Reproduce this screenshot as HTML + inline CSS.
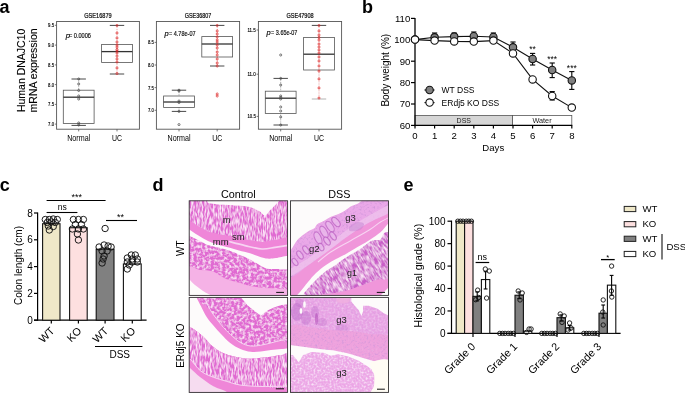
<!DOCTYPE html>
<html><head><meta charset="utf-8"><style>
html,body{margin:0;padding:0;background:#fff;width:685px;height:393px;overflow:hidden}
svg{display:block;will-change:transform}
text{font-family:"Liberation Sans",sans-serif}
</style></head><body>
<svg width="685" height="393" viewBox="0 0 685 393">
<rect width="685" height="393" fill="#fff"/>
<defs>
<filter id="tv" x="0" y="0" width="1" height="1" filterUnits="objectBoundingBox">
  <feTurbulence type="fractalNoise" baseFrequency="0.6 0.16" numOctaves="2" seed="3" result="n"/>
  <feColorMatrix in="n" type="matrix" values="0 0 0 0 0.99  0 0 0 0 0.8  0 0 0 0 0.95  0 0 0 -2.5 1.58" result="spots"/>
  <feComposite in="spots" in2="SourceGraphic" operator="in" result="s2"/>
  <feMerge><feMergeNode in="SourceGraphic"/><feMergeNode in="s2"/></feMerge>
</filter>
<filter id="ts" x="0" y="0" width="1" height="1" filterUnits="objectBoundingBox">
  <feTurbulence type="fractalNoise" baseFrequency="0.35 0.35" numOctaves="2" seed="7" result="n"/>
  <feColorMatrix in="n" type="matrix" values="0 0 0 0 0.99  0 0 0 0 0.82  0 0 0 0 0.95  0 0 0 -2.3 1.35" result="spots"/>
  <feComposite in="spots" in2="SourceGraphic" operator="in" result="s2"/>
  <feMerge><feMergeNode in="SourceGraphic"/><feMergeNode in="s2"/></feMerge>
</filter>
<filter id="ti" x="0" y="0" width="1" height="1" filterUnits="objectBoundingBox">
  <feTurbulence type="fractalNoise" baseFrequency="0.5 0.5" numOctaves="2" seed="11" result="n"/>
  <feColorMatrix in="n" type="matrix" values="0 0 0 0 0.97  0 0 0 0 0.85  0 0 0 0 0.97  0 0 0 -2.0 1.15" result="spots"/>
  <feComposite in="spots" in2="SourceGraphic" operator="in" result="s2"/>
  <feMerge><feMergeNode in="SourceGraphic"/><feMergeNode in="s2"/></feMerge>
</filter>
<filter id="td" x="0" y="0" width="1" height="1" filterUnits="objectBoundingBox">
  <feTurbulence type="fractalNoise" baseFrequency="0.45 0.45" numOctaves="2" seed="5" result="n"/>
  <feColorMatrix in="n" type="matrix" values="0 0 0 0 0.62  0 0 0 0 0.3  0 0 0 0 0.7  0 0 0 -2.4 1.2" result="spots"/>
  <feComposite in="spots" in2="SourceGraphic" operator="in" result="s2"/>
  <feMerge><feMergeNode in="SourceGraphic"/><feMergeNode in="s2"/></feMerge>
</filter>
<clipPath id="cTL"><rect x="189.2" y="200.8" width="98.4" height="94.6"/></clipPath>
<clipPath id="cTR"><rect x="290.5" y="200.8" width="98" height="94.6"/></clipPath>
<clipPath id="cBL"><rect x="189.2" y="297.4" width="98.4" height="95"/></clipPath>
<clipPath id="cBR"><rect x="290.5" y="297.4" width="98" height="95"/></clipPath>
</defs>
<g clip-path="url(#cTL)">
<rect x="189" y="200" width="100" height="96" fill="#ef86d8"/>
<path d="M189.0,200.0 L288.0,200.0 L288.0,237.0 L275.0,240.0 L262.0,242.0 L249.0,240.0 L232.0,236.0 L220.0,234.5 L208.0,231.5 L198.0,226.0 L189.0,220.0 Z" fill="#e06ad2" filter="url(#tv)"/>
<path d="M189.0,233.0 L198.0,238.0 L208.0,243.0 L219.0,246.0 L229.0,249.0 L239.0,252.0 L250.0,256.0 L262.0,262.0 L269.0,264.0 L276.0,264.0 L288.0,262.0 L288.0,290.0 L265.0,288.0 L250.0,286.0 L240.0,283.0 L226.0,279.0 L213.0,271.4 L200.0,270.0 L189.0,268.0 Z" fill="#e06ad2" filter="url(#ts)"/>
<path d="M229.0,241.5 C231.7,242.2 239.5,244.3 245.0,245.6 C250.5,246.8 257.0,248.7 262.0,249.0 C267.0,249.3 270.7,248.0 275.0,247.4 C279.3,246.8 285.8,245.7 288.0,245.4" fill="none" stroke="#f7d4f2" stroke-width="1.6"/>
<path d="M187.0,228.4 C187.3,227.4 187.2,228.0 189.0,229.2 C190.8,230.3 194.8,233.3 198.0,235.3 C201.2,237.3 204.5,239.4 208.0,241.0 C211.5,242.6 215.5,243.9 219.0,245.0 C222.5,246.1 225.7,246.6 229.0,247.5 C232.3,248.4 235.5,249.5 239.0,250.5 C242.5,251.5 246.2,252.1 250.0,253.3 C253.8,254.5 258.8,256.6 262.0,257.5 C265.2,258.4 266.7,258.6 269.0,258.7 C271.3,258.8 272.5,258.5 276.0,258.1 C279.5,257.8 287.7,254.9 290.0,256.6 C292.3,258.3 292.3,266.2 290.0,268.3 C287.7,270.4 279.5,268.8 276.0,268.9 C272.5,269.0 271.3,269.3 269.0,268.9 C266.7,268.5 265.2,268.1 262.0,266.5 C258.8,264.9 253.8,261.5 250.0,259.5 C246.2,257.5 242.5,256.0 239.0,254.5 C235.5,253.0 232.3,251.6 229.0,250.5 C225.7,249.4 222.5,248.7 219.0,247.8 C215.5,246.9 211.5,246.3 208.0,245.0 C204.5,243.7 201.2,241.5 198.0,240.0 C194.8,238.5 190.8,236.6 189.0,235.8 C187.2,235.0 187.3,236.2 187.0,235.0 C186.7,233.8 186.7,229.4 187.0,228.4 Z" fill="#fdfbfb"/>
<path d="M205.0,199.0 C192.7,199.2 206.4,199.8 207.0,200.5 C207.6,201.2 206.6,202.3 208.5,203.0 C210.4,203.7 214.1,204.0 218.2,204.4 C222.2,204.8 227.9,204.8 232.8,205.2 C237.7,205.6 243.0,205.6 247.4,206.6 C251.8,207.6 256.1,209.5 259.0,211.0 C261.9,212.5 263.0,215.6 265.0,215.4 C267.0,215.2 268.9,211.5 270.8,209.6 C272.7,207.7 275.2,205.3 276.6,203.8 C278.1,202.3 278.8,201.3 279.5,200.5 C280.2,199.7 293.4,199.2 281.0,199.0 C268.6,198.8 217.3,198.8 205.0,199.0 Z" fill="#fdfbfb"/>
<path d="M187.0,268.0 C189.2,263.5 195.7,269.4 200.0,270.0 C204.3,270.6 208.7,269.9 213.0,271.4 C217.3,272.9 221.5,277.1 226.0,279.0 C230.5,280.9 236.0,281.8 240.0,283.0 C244.0,284.2 245.8,285.2 250.0,286.0 C254.2,286.8 258.3,287.3 265.0,288.0 C271.7,288.7 285.8,288.5 290.0,290.0 C294.2,291.5 307.2,295.8 290.0,297.0 C272.8,298.2 204.2,301.8 187.0,297.0 C169.8,292.2 184.8,272.5 187.0,268.0 Z" fill="#f5b2e6"/>
<path d="M187.0,279.0 C188.3,277.0 192.3,283.0 195.0,285.0 C197.7,287.0 200.3,289.0 203.0,291.0 C205.7,293.0 213.7,296.0 211.0,297.0 C208.3,298.0 191.0,300.0 187.0,297.0 C183.0,294.0 185.7,281.0 187.0,279.0 Z" fill="#fdfbfb"/>
<line x1="276.2" y1="292.4" x2="284" y2="292.4" stroke="#111" stroke-width="1"/>
</g>
<g clip-path="url(#cTR)">
<rect x="290" y="200" width="100" height="96" fill="#f096da"/>
<path d="M289.0,250.0 C289.4,245.3 290.2,250.5 291.5,249.0 C292.8,247.5 294.9,243.2 296.6,241.0 C298.3,238.8 299.8,237.5 301.7,235.9 C303.6,234.3 305.9,232.7 308.0,231.4 C310.1,230.1 312.9,229.5 314.4,228.3 C315.9,227.1 315.3,225.7 317.0,224.4 C318.7,223.1 322.3,221.9 324.6,220.6 C326.9,219.3 328.8,217.9 331.0,216.8 C333.2,215.8 335.8,215.3 338.0,214.3 C340.2,213.3 342.3,212.3 344.4,211.0 C346.5,209.7 348.6,207.8 350.7,206.6 C352.8,205.4 355.3,204.8 357.0,204.0 C358.7,203.2 359.7,202.3 361.0,201.5 C362.3,200.7 359.8,199.4 365.0,199.0 C370.2,198.6 387.5,197.0 392.0,199.0 C396.5,201.0 395.7,207.2 392.0,211.0 C388.3,214.8 376.8,218.2 370.0,222.0 C363.2,225.8 357.6,229.5 351.0,234.0 C344.4,238.5 337.5,244.0 330.7,249.0 C323.9,254.0 316.9,259.3 310.0,264.0 C303.1,268.7 292.5,279.3 289.0,277.0 C285.5,274.7 288.6,254.7 289.0,250.0 Z" fill="#eaa8e8" filter="url(#td)"/>
<path d="M289.0,270.0 C292.5,266.7 303.1,261.7 310.0,257.0 C316.9,252.3 323.9,247.0 330.7,242.0 C337.5,237.0 344.4,231.5 351.0,227.0 C357.6,222.5 363.2,218.8 370.0,215.0 C376.8,211.2 388.3,204.7 392.0,204.0 C395.7,203.3 395.7,208.0 392.0,211.0 C388.3,214.0 376.8,218.2 370.0,222.0 C363.2,225.8 357.6,229.5 351.0,234.0 C344.4,238.5 337.5,244.0 330.7,249.0 C323.9,254.0 316.9,259.3 310.0,264.0 C303.1,268.7 292.5,276.0 289.0,277.0 C285.5,278.0 285.5,273.3 289.0,270.0 Z" fill="#efc2ec" opacity="0.8"/>
<ellipse cx="318" cy="238" rx="3.2" ry="6.5" transform="rotate(-25 318 238)" fill="#eabcec" stroke="#bb62c2" stroke-width="1.2" opacity="0.7"/>
<ellipse cx="324" cy="232" rx="3.0" ry="6.5" transform="rotate(-30 324 232)" fill="#eabcec" stroke="#bb62c2" stroke-width="1.2" opacity="0.7"/>
<ellipse cx="330" cy="226.5" rx="3.0" ry="6" transform="rotate(-35 330 226.5)" fill="#eabcec" stroke="#bb62c2" stroke-width="1.2" opacity="0.7"/>
<ellipse cx="336" cy="222" rx="2.8" ry="5.5" transform="rotate(-40 336 222)" fill="#eabcec" stroke="#bb62c2" stroke-width="1.2" opacity="0.7"/>
<ellipse cx="321" cy="247" rx="2.4" ry="4" transform="rotate(-30 321 247)" fill="#eabcec" stroke="#bb62c2" stroke-width="1.2" opacity="0.7"/>
<ellipse cx="327" cy="241" rx="2.4" ry="4.5" transform="rotate(-35 327 241)" fill="#eabcec" stroke="#bb62c2" stroke-width="1.2" opacity="0.7"/>
<ellipse cx="333" cy="236" rx="2.4" ry="4.5" transform="rotate(-35 333 236)" fill="#eabcec" stroke="#bb62c2" stroke-width="1.2" opacity="0.7"/>
<ellipse cx="300" cy="255" rx="2.4" ry="4.5" transform="rotate(-35 300 255)" fill="#eabcec" stroke="#bb62c2" stroke-width="1.2" opacity="0.7"/>
<ellipse cx="306" cy="250" rx="2.4" ry="4.5" transform="rotate(-35 306 250)" fill="#eabcec" stroke="#bb62c2" stroke-width="1.2" opacity="0.7"/>
<ellipse cx="295" cy="262" rx="2.2" ry="4" transform="rotate(-35 295 262)" fill="#eabcec" stroke="#bb62c2" stroke-width="1.2" opacity="0.7"/>
<path d="M350.0,226.0 C351.3,224.5 355.7,222.3 358.0,222.0 C360.3,221.7 363.7,222.7 364.0,224.0 C364.3,225.3 362.3,228.8 360.0,230.0 C357.7,231.2 351.7,231.7 350.0,231.0 C348.3,230.3 348.7,227.5 350.0,226.0 Z" fill="#c07ed0" opacity="0.45"/>
<path d="M289.0,250.0 C289.4,258.3 290.2,250.5 291.5,249.0 C292.8,247.5 294.9,243.2 296.6,241.0 C298.3,238.8 299.8,237.5 301.7,235.9 C303.6,234.3 305.9,232.7 308.0,231.4 C310.1,230.1 312.9,229.5 314.4,228.3 C315.9,227.1 315.3,225.7 317.0,224.4 C318.7,223.1 322.3,221.9 324.6,220.6 C326.9,219.3 328.8,217.9 331.0,216.8 C333.2,215.8 335.8,215.3 338.0,214.3 C340.2,213.3 342.3,212.3 344.4,211.0 C346.5,209.7 348.6,207.8 350.7,206.6 C352.8,205.4 355.3,204.8 357.0,204.0 C358.7,203.2 359.7,202.3 361.0,201.5 C362.3,200.7 359.8,199.4 365.0,199.0 C370.2,198.6 404.7,199.0 392.0,199.0 C379.3,199.0 306.2,190.5 289.0,199.0 C271.8,207.5 288.6,241.7 289.0,250.0 Z" fill="#fdfbfb"/>
<path d="M318.0,262.0 C320.1,260.3 325.2,255.6 330.7,252.0 C336.2,248.4 344.4,244.2 351.0,240.4 C357.6,236.7 365.1,232.6 370.0,229.5 C374.9,226.4 376.8,224.2 380.5,222.0 C384.2,219.8 390.1,217.0 392.0,216.0" fill="none" stroke="#f7d4f2" stroke-width="1.1"/>
<clipPath id="g1c"><path d="M298.0,298.0 C299.3,296.8 301.8,293.5 304.0,291.0 C306.2,288.5 308.8,285.3 311.0,283.0 C313.2,280.7 314.7,279.2 317.0,277.0 C319.3,274.8 322.3,272.0 325.0,270.0 C327.7,268.0 330.2,266.8 333.0,265.0 C335.8,263.2 339.2,260.8 342.0,259.0 C344.8,257.2 347.0,255.8 350.0,254.0 C353.0,252.2 356.8,250.2 360.2,248.0 C363.6,245.8 367.8,242.0 370.3,240.5 C372.8,239.0 373.7,239.3 375.4,239.0 C377.1,238.7 379.1,239.5 380.5,238.5 C381.9,237.5 382.6,234.2 383.6,233.0 C384.6,231.8 385.2,231.3 386.6,231.0 C388.0,230.7 391.1,223.8 392.0,231.0 C392.9,238.2 394.7,265.8 392.0,274.0 C389.3,282.2 381.3,278.0 376.0,280.0 C370.7,282.0 366.0,284.0 360.0,286.0 C354.0,288.0 350.7,290.0 340.0,292.0 C329.3,294.0 303.0,297.0 296.0,298.0 C289.0,299.0 296.7,299.2 298.0,298.0 Z"/></clipPath>
<g clip-path="url(#g1c)"><g transform="rotate(-30 345 270)"><rect x="280" y="200" width="130" height="140" fill="#c95cc8" filter="url(#tv)"/></g></g>
<path d="M294.0,299.0 C294.2,297.8 297.7,294.8 300.0,292.0 C302.3,289.2 305.3,285.2 308.0,282.0 C310.7,278.8 313.0,275.8 316.0,273.0 C319.0,270.2 322.7,267.3 326.0,265.0 C329.3,262.7 332.7,260.8 336.0,259.0 C339.3,257.2 343.7,255.2 346.0,254.0 C348.3,252.8 347.6,253.0 350.0,251.6 C352.4,250.2 356.8,247.5 360.2,245.5 C363.6,243.5 366.9,241.6 370.3,239.4 C373.7,237.2 377.6,234.8 380.5,232.3 C383.4,229.8 385.7,226.1 387.6,224.2 C389.5,222.3 391.3,219.7 392.0,221.0 C392.7,222.3 392.9,230.5 392.0,232.3 C391.1,234.1 388.0,231.8 386.6,232.0 C385.2,232.2 384.6,232.6 383.6,233.8 C382.6,235.0 381.9,238.4 380.5,239.4 C379.1,240.4 377.1,239.7 375.4,240.0 C373.7,240.3 372.8,240.0 370.3,241.5 C367.8,243.0 363.6,246.8 360.2,249.0 C356.8,251.2 352.9,253.2 350.0,255.0 C347.1,256.8 345.7,257.7 343.0,259.5 C340.3,261.3 336.8,264.1 334.0,266.0 C331.2,267.9 328.7,269.0 326.0,271.0 C323.3,273.0 320.3,275.8 318.0,278.0 C315.7,280.2 314.2,281.7 312.0,284.0 C309.8,286.3 307.2,289.5 305.0,292.0 C302.8,294.5 300.8,297.8 299.0,299.0 C297.2,300.2 293.8,300.2 294.0,299.0 Z" fill="#fdfbfb"/>
<path d="M380.0,296.0 L389.0,287.0 L390.0,296.0 Z" fill="#fdfbfb"/>
<line x1="376.8" y1="292.4" x2="385" y2="292.4" stroke="#111" stroke-width="1"/>
</g>
<g clip-path="url(#cBL)">
<rect x="189" y="297" width="100" height="96" fill="#ef86d8"/>
<path d="M203.5,296.0 C190.3,298.5 208.4,306.7 211.0,311.0 C213.6,315.3 216.7,319.0 219.0,322.0 C221.3,325.0 223.1,326.9 225.0,329.0 C226.9,331.1 227.9,332.2 230.5,334.5 C233.1,336.8 237.0,340.6 240.4,342.5 C243.8,344.4 247.3,345.6 250.7,346.0 C254.1,346.4 257.5,345.7 260.9,345.2 C264.3,344.7 267.6,343.7 271.0,342.9 C274.4,342.1 278.1,340.9 281.3,340.3 C284.5,339.7 288.6,346.7 290.0,339.3 C291.4,331.9 304.4,303.2 290.0,296.0 C275.6,288.8 216.7,293.5 203.5,296.0 Z" fill="#e06ad2" filter="url(#ts)"/>
<path d="M203.5,296.0 C204.8,298.5 208.4,306.7 211.0,311.0 C213.6,315.3 216.7,319.0 219.0,322.0 C221.3,325.0 223.1,326.9 225.0,329.0 C226.9,331.1 227.9,332.2 230.5,334.5 C233.1,336.8 237.0,340.6 240.4,342.5 C243.8,344.4 247.3,345.6 250.7,346.0 C254.1,346.4 257.5,345.7 260.9,345.2 C264.3,344.7 267.6,343.7 271.0,342.9 C274.4,342.1 278.1,340.9 281.3,340.3 C284.5,339.7 288.6,339.5 290.0,339.3" fill="none" stroke="#f7d4f2" stroke-width="1.0"/>
<path d="M240.0,296.0 C232.0,296.4 240.8,297.0 242.0,298.5 C243.2,300.0 245.3,303.0 247.2,304.9 C249.1,306.8 251.2,308.3 253.5,310.0 C255.8,311.7 259.1,314.8 261.2,315.0 C263.3,315.2 264.2,312.6 266.3,311.3 C268.4,310.1 271.4,308.6 273.9,307.5 C276.4,306.4 278.8,305.6 281.5,304.9 C284.2,304.2 288.6,304.9 290.0,303.4 C291.4,301.9 298.3,297.2 290.0,296.0 C281.7,294.8 248.0,295.6 240.0,296.0 Z" fill="#fdfbfb"/>
<path d="M187.0,296.0 C188.5,296.0 194.3,295.6 196.0,296.0 C197.7,296.4 196.2,296.8 197.0,298.5 C197.8,300.2 199.3,303.0 201.0,306.2 C202.7,309.4 204.9,314.4 207.0,317.6 C209.1,320.8 211.1,322.8 213.4,325.5 C215.7,328.2 218.2,331.1 221.0,334.0 C223.8,336.9 227.0,340.5 230.2,343.0 C233.4,345.5 237.0,347.5 240.4,349.0 C243.8,350.5 247.3,351.4 250.7,351.8 C254.1,352.2 257.5,351.8 260.9,351.5 C264.3,351.2 267.6,350.4 271.0,350.0 C274.4,349.6 278.1,349.2 281.3,349.0 C284.5,348.8 288.6,347.6 290.0,348.5 C291.4,349.4 291.4,353.5 290.0,354.6 C288.6,355.7 284.5,354.8 281.3,355.1 C278.1,355.5 274.4,356.3 271.0,356.7 C267.6,357.1 264.3,357.4 260.9,357.7 C257.5,358.0 254.1,358.7 250.7,358.7 C247.3,358.7 243.8,358.2 240.4,357.7 C237.0,357.2 233.6,356.5 230.2,355.5 C226.8,354.5 223.2,353.2 220.0,351.5 C216.8,349.8 213.2,346.8 211.0,345.0 C208.8,343.2 208.5,342.1 207.0,340.5 C205.5,338.9 203.9,337.1 202.0,335.4 C200.1,333.7 197.7,331.9 195.6,330.4 C193.5,328.9 190.7,327.2 189.3,326.5 C187.9,325.8 187.4,331.1 187.0,326.0 C186.6,320.9 187.0,301.0 187.0,296.0 C187.0,291.0 185.5,296.0 187.0,296.0 Z" fill="#fdfbfb"/>
<path d="M187.0,326.0 C187.4,320.8 187.9,325.8 189.3,326.5 C190.7,327.2 193.5,328.9 195.6,330.4 C197.7,331.9 200.1,333.7 202.0,335.4 C203.9,337.1 205.5,338.9 207.0,340.5 C208.5,342.1 208.8,343.2 211.0,345.0 C213.2,346.8 216.8,349.8 220.0,351.5 C223.2,353.2 226.8,354.5 230.2,355.5 C233.6,356.5 237.0,357.2 240.4,357.7 C243.8,358.2 247.3,358.7 250.7,358.7 C254.1,358.7 257.5,358.0 260.9,357.7 C264.3,357.4 267.6,357.1 271.0,356.7 C274.4,356.3 278.1,355.5 281.3,355.1 C284.5,354.8 288.6,349.5 290.0,354.6 C291.4,359.8 294.7,380.7 290.0,386.0 C285.3,391.3 270.3,386.7 262.0,386.5 C253.7,386.3 246.0,385.9 240.0,385.0 C234.0,384.1 230.6,382.5 226.2,381.2 C221.8,379.9 217.7,379.0 213.4,377.3 C209.2,375.6 204.5,374.0 200.7,371.0 C196.9,368.0 192.8,361.7 190.5,359.5 C188.2,357.3 187.6,363.6 187.0,358.0 C186.4,352.4 186.6,331.2 187.0,326.0 Z" fill="#e06ad2" filter="url(#tv)"/>
<path d="M187.0,358.0 C187.6,358.2 188.2,357.3 190.5,359.5 C192.8,361.7 196.9,368.0 200.7,371.0 C204.5,374.0 209.2,375.6 213.4,377.3 C217.7,379.0 221.8,379.9 226.2,381.2 C230.6,382.5 234.0,384.1 240.0,385.0 C246.0,385.9 253.7,386.3 262.0,386.5 C270.3,386.7 285.3,386.1 290.0,386.0" fill="none" stroke="#f7d4f2" stroke-width="1.0"/>
<path d="M187.0,366.0 C187.6,361.7 188.3,366.6 190.5,368.4 C192.7,370.2 196.2,374.0 200.0,377.0 C203.8,380.0 209.1,383.6 213.4,386.3 C217.7,389.0 230.4,391.7 226.0,393.0 C221.6,394.3 193.5,398.5 187.0,394.0 C180.5,389.5 186.4,370.3 187.0,366.0 Z" fill="#f6dcf0"/>
<line x1="275.8" y1="388.8" x2="284" y2="388.8" stroke="#111" stroke-width="1"/>
</g>
<g clip-path="url(#cBR)">
<rect x="290" y="297" width="100" height="96" fill="#e8a2e4" filter="url(#ti)"/>
<rect x="290" y="297" width="100" height="50" fill="#e8a2e4" filter="url(#td)" opacity="0.5"/>
<ellipse cx="297" cy="312" rx="6" ry="9" fill="#b968c8" opacity="0.45"/>
<ellipse cx="306" cy="318" rx="5" ry="7" fill="#b968c8" opacity="0.4"/>
<ellipse cx="315" cy="312" rx="4" ry="6" fill="#b968c8" opacity="0.35"/>
<ellipse cx="322" cy="322" rx="5" ry="4" fill="#b968c8" opacity="0.3"/>
<ellipse cx="300" cy="303" rx="5" ry="4" fill="#b968c8" opacity="0.3"/>
<ellipse cx="342" cy="328" rx="6" ry="4" fill="#b968c8" opacity="0.25"/>
<ellipse cx="316.5" cy="319" rx="1.6" ry="6" fill="#b04cb8" opacity="0.55"/>
<path d="M289.0,326.0 C292.5,323.1 303.2,326.3 310.0,327.0 C316.8,327.7 323.3,329.3 330.0,330.0 C336.7,330.7 343.3,330.3 350.0,331.0 C356.7,331.7 363.0,332.8 370.0,334.0 C377.0,335.2 388.3,333.0 392.0,338.0 C395.7,343.0 394.4,359.9 392.0,364.0 C389.6,368.1 382.4,363.3 377.6,362.3 C372.8,361.3 367.9,359.4 363.0,357.9 C358.1,356.4 353.3,354.7 348.4,353.5 C343.5,352.3 338.7,351.3 333.8,350.6 C328.9,349.9 324.1,349.7 319.2,349.1 C314.3,348.5 309.6,347.8 304.6,347.0 C299.6,346.2 291.6,348.0 289.0,344.5 C286.4,341.0 285.5,328.9 289.0,326.0 Z" fill="#efa2dc" opacity="0.85" filter="url(#td)"/>
<path d="M289.0,355.0 C289.6,348.5 291.3,353.8 292.9,355.0 C294.5,356.2 297.1,362.3 298.8,362.3 C300.5,362.3 300.9,356.7 303.1,355.0 C305.3,353.3 308.5,352.4 311.9,352.0 C315.3,351.6 320.4,352.2 323.6,352.8 C326.8,353.4 328.5,355.5 330.9,355.7 C333.3,355.9 335.3,354.1 338.2,354.2 C341.1,354.3 345.0,355.3 348.4,356.4 C351.8,357.5 355.7,359.3 358.6,360.8 C361.5,362.3 363.7,363.7 365.9,365.2 C368.1,366.7 370.4,368.1 371.8,369.6 C373.2,371.1 373.6,371.3 374.0,374.0 C374.4,376.7 374.4,382.3 374.0,385.6 C373.6,388.9 386.0,392.6 371.8,394.0 C357.6,395.4 302.8,400.5 289.0,394.0 C275.2,387.5 288.4,361.5 289.0,355.0 Z" fill="#eca6e6" filter="url(#ti)"/>
<path d="M289.0,344.8 L304.6,347.0 L319.2,349.1 L333.8,350.6 L348.4,353.5 L363.0,357.9 L377.6,362.3 L392.0,363.0 L392.0,372.0 L374.0,372.0 L374.0,374.0 L371.8,369.6 L365.9,365.2 L358.6,360.8 L348.4,356.4 L338.2,354.2 L330.9,355.7 L323.6,352.8 L311.9,352.0 L303.1,355.0 L298.8,362.3 L292.9,355.0 L289.0,355.0 Z" fill="#fdfbfb"/>
<path d="M371.8,362.0 C375.2,360.7 388.6,356.7 392.0,362.0 C395.4,367.3 395.4,388.7 392.0,394.0 C388.6,399.3 374.8,395.4 371.8,394.0 C368.8,392.6 373.6,388.9 374.0,385.6 C374.4,382.3 374.4,376.7 374.0,374.0 C373.6,371.3 372.2,371.6 371.8,369.6 C371.4,367.6 368.4,363.3 371.8,362.0 Z" fill="#fffcf4"/>
<path d="M351.3,296.0 L351.3,301.4 L355.0,306.0 L358.6,310.0 L361.5,316.0 L363.0,311.6 L363.0,305.8 L368.8,305.8 L377.6,308.7 L383.4,313.0 L392.0,317.4 L392.0,296.0 Z" fill="#fdfbfb"/>
<ellipse cx="343" cy="300" rx="7" ry="3.5" fill="#f0b0e0" opacity="0.8"/>
<ellipse cx="301" cy="311" rx="1.4" ry="3" fill="#fdfbfb"/>
<ellipse cx="304.5" cy="304.5" rx="1.3" ry="3.2" fill="#fdfbfb"/>
<line x1="377" y1="389.2" x2="384.9" y2="389.2" stroke="#111" stroke-width="1"/>
</g>
<text x="222.7" y="222.7" font-size="9.5" fill="#222">m</text>
<text x="231.9" y="240.3" font-size="9.5" fill="#222">sm</text>
<text x="212.8" y="244.8" font-size="9.5" fill="#222">mm</text>
<text x="345.2" y="221.4" font-size="9.5" fill="#222">g3</text>
<text x="309" y="251.8" font-size="9.5" fill="#222">g2</text>
<text x="347" y="276.2" font-size="8.9" fill="#222">g1</text>
<text x="336.3" y="322.6" font-size="9.5" fill="#222">g3</text>
<text x="336.3" y="376.4" font-size="9.5" fill="#222">g3</text>
<rect x="189.2" y="200.8" width="98.4" height="94.6" fill="none" stroke="#333" stroke-width="0.9"/>
<rect x="290.5" y="200.8" width="98" height="94.6" fill="none" stroke="#333" stroke-width="0.9"/>
<rect x="189.2" y="297.4" width="98.4" height="95" fill="none" stroke="#333" stroke-width="0.9"/>
<rect x="290.5" y="297.4" width="98" height="95" fill="none" stroke="#333" stroke-width="0.9"/>
<text x="-0.60" y="12.60" font-size="18" text-anchor="start" fill="#000" font-weight="bold" >a</text>
<text x="361.90" y="12.60" font-size="18" text-anchor="start" fill="#000" font-weight="bold" >b</text>
<text x="-0.20" y="191.00" font-size="18" text-anchor="start" fill="#000" font-weight="bold" >c</text>
<text x="152.40" y="191.00" font-size="18" text-anchor="start" fill="#000" font-weight="bold" >d</text>
<text x="403.40" y="191.00" font-size="18" text-anchor="start" fill="#000" font-weight="bold" >e</text>
<text x="25.20" y="70.40" font-size="10.5" text-anchor="middle" fill="#000" transform="rotate(-90 25.20 70.40)" stroke="#000" stroke-width="0.12">Human DNAJC10</text>
<text x="37.20" y="70.40" font-size="10.5" text-anchor="middle" fill="#000" transform="rotate(-90 37.20 70.40)" stroke="#000" stroke-width="0.12">mRNA expression</text>
<rect x="56.60" y="21.50" width="82.80" height="107.70" fill="none" stroke="#555" stroke-width="0.9" />
<text x="98.00" y="18.30" font-size="7.8" text-anchor="middle" fill="#000" textLength="27.5" lengthAdjust="spacingAndGlyphs" stroke="#111" stroke-width="0.22">GSE16879</text>
<text x="65.80" y="38.20" font-size="7.8" font-style="italic" fill="#111" stroke="#111" stroke-width="0.2">p</text>
<text x="68.92" y="38.20" font-size="7.8" fill="#111" stroke="#111" stroke-width="0.2" textLength="22.08" lengthAdjust="spacingAndGlyphs">= 0.0006</text>
<line x1="54.80" y1="25.30" x2="56.60" y2="25.30" stroke="#555" stroke-width="0.8" />
<text x="54.00" y="27.30" font-size="5.8" text-anchor="end" fill="#000" textLength="5.9" lengthAdjust="spacingAndGlyphs" stroke="#111" stroke-width="0.18">9.5</text>
<line x1="54.80" y1="45.10" x2="56.60" y2="45.10" stroke="#555" stroke-width="0.8" />
<text x="54.00" y="47.10" font-size="5.8" text-anchor="end" fill="#000" textLength="5.9" lengthAdjust="spacingAndGlyphs" stroke="#111" stroke-width="0.18">9.0</text>
<line x1="54.80" y1="64.90" x2="56.60" y2="64.90" stroke="#555" stroke-width="0.8" />
<text x="54.00" y="66.90" font-size="5.8" text-anchor="end" fill="#000" textLength="5.9" lengthAdjust="spacingAndGlyphs" stroke="#111" stroke-width="0.18">8.5</text>
<line x1="54.80" y1="84.60" x2="56.60" y2="84.60" stroke="#555" stroke-width="0.8" />
<text x="54.00" y="86.60" font-size="5.8" text-anchor="end" fill="#000" textLength="5.9" lengthAdjust="spacingAndGlyphs" stroke="#111" stroke-width="0.18">8.0</text>
<line x1="54.80" y1="104.40" x2="56.60" y2="104.40" stroke="#555" stroke-width="0.8" />
<text x="54.00" y="106.40" font-size="5.8" text-anchor="end" fill="#000" textLength="5.9" lengthAdjust="spacingAndGlyphs" stroke="#111" stroke-width="0.18">7.5</text>
<line x1="54.80" y1="124.10" x2="56.60" y2="124.10" stroke="#555" stroke-width="0.8" />
<text x="54.00" y="126.10" font-size="5.8" text-anchor="end" fill="#000" textLength="5.9" lengthAdjust="spacingAndGlyphs" stroke="#111" stroke-width="0.18">7.0</text>
<line x1="78.70" y1="79.00" x2="78.70" y2="90.20" stroke="#777" stroke-width="0.6" stroke-dasharray="1,0.8"/>
<line x1="78.70" y1="123.40" x2="78.70" y2="125.40" stroke="#777" stroke-width="0.6" stroke-dasharray="1,0.8"/>
<line x1="71.50" y1="79.00" x2="85.90" y2="79.00" stroke="#333" stroke-width="0.9" />
<line x1="71.50" y1="125.40" x2="85.90" y2="125.40" stroke="#333" stroke-width="0.9" />
<rect x="63.30" y="90.20" width="30.80" height="33.20" fill="none" stroke="#555" stroke-width="0.8" />
<line x1="63.30" y1="97.20" x2="94.10" y2="97.20" stroke="#333" stroke-width="1.3" />
<circle cx="78.70" cy="79.00" r="1.05" fill="none" stroke="#444" stroke-width="0.7"/>
<circle cx="78.70" cy="84.00" r="1.05" fill="none" stroke="#444" stroke-width="0.7"/>
<circle cx="78.70" cy="90.50" r="1.05" fill="none" stroke="#444" stroke-width="0.7"/>
<circle cx="78.70" cy="96.00" r="1.05" fill="none" stroke="#444" stroke-width="0.7"/>
<circle cx="78.70" cy="99.00" r="1.05" fill="none" stroke="#444" stroke-width="0.7"/>
<circle cx="78.70" cy="123.00" r="1.05" fill="none" stroke="#444" stroke-width="0.7"/>
<circle cx="78.70" cy="125.00" r="1.05" fill="none" stroke="#444" stroke-width="0.7"/>
<line x1="78.70" y1="129.20" x2="78.70" y2="131.40" stroke="#555" stroke-width="0.8" />
<text x="78.70" y="140.80" font-size="9.2" text-anchor="middle" fill="#000" textLength="23" lengthAdjust="spacingAndGlyphs" >Normal</text>
<line x1="117.00" y1="25.40" x2="117.00" y2="44.40" stroke="#e07070" stroke-width="0.6" stroke-dasharray="1,0.8"/>
<line x1="117.00" y1="62.40" x2="117.00" y2="74.00" stroke="#e07070" stroke-width="0.6" stroke-dasharray="1,0.8"/>
<line x1="109.80" y1="25.40" x2="124.20" y2="25.40" stroke="#333" stroke-width="0.9" />
<line x1="109.80" y1="74.00" x2="124.20" y2="74.00" stroke="#333" stroke-width="0.9" />
<rect x="101.60" y="44.40" width="30.80" height="18.00" fill="none" stroke="#555" stroke-width="0.8" />
<line x1="117.00" y1="44.40" x2="117.00" y2="62.40" stroke="#e07070" stroke-width="0.6" stroke-dasharray="1,0.8"/>
<line x1="101.60" y1="51.60" x2="132.40" y2="51.60" stroke="#333" stroke-width="1.3" />
<circle cx="117.00" cy="25.50" r="1.05" fill="none" stroke="#d22" stroke-width="0.7"/>
<circle cx="117.00" cy="33.00" r="1.05" fill="none" stroke="#d22" stroke-width="0.7"/>
<circle cx="117.00" cy="38.00" r="1.05" fill="none" stroke="#d22" stroke-width="0.7"/>
<circle cx="117.00" cy="42.00" r="1.05" fill="none" stroke="#d22" stroke-width="0.7"/>
<circle cx="117.00" cy="45.00" r="1.05" fill="none" stroke="#d22" stroke-width="0.7"/>
<circle cx="117.00" cy="47.00" r="1.05" fill="none" stroke="#d22" stroke-width="0.7"/>
<circle cx="117.00" cy="49.50" r="1.05" fill="none" stroke="#d22" stroke-width="0.7"/>
<circle cx="117.00" cy="51.00" r="1.05" fill="none" stroke="#d22" stroke-width="0.7"/>
<circle cx="117.00" cy="53.00" r="1.05" fill="none" stroke="#d22" stroke-width="0.7"/>
<circle cx="117.00" cy="56.00" r="1.05" fill="none" stroke="#d22" stroke-width="0.7"/>
<circle cx="117.00" cy="59.00" r="1.05" fill="none" stroke="#d22" stroke-width="0.7"/>
<circle cx="117.00" cy="62.00" r="1.05" fill="none" stroke="#d22" stroke-width="0.7"/>
<circle cx="117.00" cy="68.00" r="1.05" fill="none" stroke="#d22" stroke-width="0.7"/>
<circle cx="117.00" cy="73.50" r="1.05" fill="none" stroke="#d22" stroke-width="0.7"/>
<line x1="117.00" y1="129.20" x2="117.00" y2="131.40" stroke="#555" stroke-width="0.8" />
<text x="117.00" y="140.80" font-size="9.2" text-anchor="middle" fill="#000" textLength="10" lengthAdjust="spacingAndGlyphs" >UC</text>
<rect x="156.40" y="21.50" width="83.20" height="107.70" fill="none" stroke="#555" stroke-width="0.9" />
<text x="198.00" y="18.30" font-size="7.8" text-anchor="middle" fill="#000" textLength="26.6" lengthAdjust="spacingAndGlyphs" stroke="#111" stroke-width="0.22">GSE36807</text>
<text x="164.50" y="36.40" font-size="7.5" font-style="italic" fill="#111" stroke="#111" stroke-width="0.2">p</text>
<text x="167.50" y="36.40" font-size="7.5" fill="#111" stroke="#111" stroke-width="0.2" textLength="28.00" lengthAdjust="spacingAndGlyphs">&#160;= 4.78e-07</text>
<line x1="154.60" y1="42.40" x2="156.40" y2="42.40" stroke="#555" stroke-width="0.8" />
<text x="153.80" y="44.40" font-size="5.8" text-anchor="end" fill="#000" textLength="5.9" lengthAdjust="spacingAndGlyphs" stroke="#111" stroke-width="0.18">8.5</text>
<line x1="154.60" y1="65.00" x2="156.40" y2="65.00" stroke="#555" stroke-width="0.8" />
<text x="153.80" y="67.00" font-size="5.8" text-anchor="end" fill="#000" textLength="5.9" lengthAdjust="spacingAndGlyphs" stroke="#111" stroke-width="0.18">8.0</text>
<line x1="154.60" y1="87.60" x2="156.40" y2="87.60" stroke="#555" stroke-width="0.8" />
<text x="153.80" y="89.60" font-size="5.8" text-anchor="end" fill="#000" textLength="5.9" lengthAdjust="spacingAndGlyphs" stroke="#111" stroke-width="0.18">7.5</text>
<line x1="154.60" y1="110.30" x2="156.40" y2="110.30" stroke="#555" stroke-width="0.8" />
<text x="153.80" y="112.30" font-size="5.8" text-anchor="end" fill="#000" textLength="5.9" lengthAdjust="spacingAndGlyphs" stroke="#111" stroke-width="0.18">7.0</text>
<line x1="179.00" y1="90.20" x2="179.00" y2="96.00" stroke="#777" stroke-width="0.6" stroke-dasharray="1,0.8"/>
<line x1="179.00" y1="107.40" x2="179.00" y2="111.40" stroke="#777" stroke-width="0.6" stroke-dasharray="1,0.8"/>
<line x1="171.80" y1="90.20" x2="186.20" y2="90.20" stroke="#333" stroke-width="0.9" />
<line x1="171.80" y1="111.40" x2="186.20" y2="111.40" stroke="#333" stroke-width="0.9" />
<rect x="163.60" y="96.00" width="30.80" height="11.40" fill="none" stroke="#555" stroke-width="0.8" />
<line x1="163.60" y1="102.00" x2="194.40" y2="102.00" stroke="#333" stroke-width="1.3" />
<circle cx="179.00" cy="90.20" r="1.05" fill="none" stroke="#444" stroke-width="0.7"/>
<circle cx="179.00" cy="91.00" r="1.05" fill="none" stroke="#444" stroke-width="0.7"/>
<circle cx="179.00" cy="101.00" r="1.05" fill="none" stroke="#444" stroke-width="0.7"/>
<circle cx="179.00" cy="102.50" r="1.05" fill="none" stroke="#444" stroke-width="0.7"/>
<circle cx="179.00" cy="111.40" r="1.05" fill="none" stroke="#444" stroke-width="0.7"/>
<circle cx="179.00" cy="124.60" r="1.05" fill="none" stroke="#444" stroke-width="0.7"/>
<line x1="179.00" y1="129.20" x2="179.00" y2="131.40" stroke="#555" stroke-width="0.8" />
<text x="179.00" y="140.80" font-size="9.2" text-anchor="middle" fill="#000" textLength="23" lengthAdjust="spacingAndGlyphs" >Normal</text>
<line x1="217.20" y1="25.40" x2="217.20" y2="36.60" stroke="#e07070" stroke-width="0.6" stroke-dasharray="1,0.8"/>
<line x1="217.20" y1="57.00" x2="217.20" y2="66.00" stroke="#e07070" stroke-width="0.6" stroke-dasharray="1,0.8"/>
<line x1="210.00" y1="25.40" x2="224.40" y2="25.40" stroke="#333" stroke-width="0.9" />
<line x1="210.00" y1="66.00" x2="224.40" y2="66.00" stroke="#333" stroke-width="0.9" />
<rect x="201.80" y="36.60" width="30.80" height="20.40" fill="none" stroke="#555" stroke-width="0.8" />
<line x1="217.20" y1="36.60" x2="217.20" y2="57.00" stroke="#e07070" stroke-width="0.6" stroke-dasharray="1,0.8"/>
<line x1="201.80" y1="44.00" x2="232.60" y2="44.00" stroke="#333" stroke-width="1.3" />
<circle cx="217.20" cy="25.50" r="1.05" fill="none" stroke="#d22" stroke-width="0.7"/>
<circle cx="217.20" cy="31.00" r="1.05" fill="none" stroke="#d22" stroke-width="0.7"/>
<circle cx="217.20" cy="34.00" r="1.05" fill="none" stroke="#d22" stroke-width="0.7"/>
<circle cx="217.20" cy="37.00" r="1.05" fill="none" stroke="#d22" stroke-width="0.7"/>
<circle cx="217.20" cy="40.00" r="1.05" fill="none" stroke="#d22" stroke-width="0.7"/>
<circle cx="217.20" cy="42.00" r="1.05" fill="none" stroke="#d22" stroke-width="0.7"/>
<circle cx="217.20" cy="45.00" r="1.05" fill="none" stroke="#d22" stroke-width="0.7"/>
<circle cx="217.20" cy="48.00" r="1.05" fill="none" stroke="#d22" stroke-width="0.7"/>
<circle cx="217.20" cy="52.00" r="1.05" fill="none" stroke="#d22" stroke-width="0.7"/>
<circle cx="217.20" cy="55.00" r="1.05" fill="none" stroke="#d22" stroke-width="0.7"/>
<circle cx="217.20" cy="59.00" r="1.05" fill="none" stroke="#d22" stroke-width="0.7"/>
<circle cx="217.20" cy="63.00" r="1.05" fill="none" stroke="#d22" stroke-width="0.7"/>
<circle cx="217.20" cy="66.00" r="1.05" fill="none" stroke="#d22" stroke-width="0.7"/>
<circle cx="217.20" cy="94.00" r="1.05" fill="none" stroke="#d22" stroke-width="0.7"/>
<circle cx="217.20" cy="96.00" r="1.05" fill="none" stroke="#d22" stroke-width="0.7"/>
<line x1="217.20" y1="129.20" x2="217.20" y2="131.40" stroke="#555" stroke-width="0.8" />
<text x="217.20" y="140.80" font-size="9.2" text-anchor="middle" fill="#000" textLength="10" lengthAdjust="spacingAndGlyphs" >UC</text>
<rect x="258.40" y="21.50" width="83.20" height="107.70" fill="none" stroke="#555" stroke-width="0.9" />
<text x="300.00" y="18.30" font-size="7.8" text-anchor="middle" fill="#000" textLength="27.2" lengthAdjust="spacingAndGlyphs" stroke="#111" stroke-width="0.22">GSE47908</text>
<text x="266.60" y="35.40" font-size="7.5" font-style="italic" fill="#111" stroke="#111" stroke-width="0.2">p</text>
<text x="269.60" y="35.40" font-size="7.5" fill="#111" stroke="#111" stroke-width="0.2" textLength="27.80" lengthAdjust="spacingAndGlyphs">&#160;= 3.65e-07</text>
<line x1="256.60" y1="30.00" x2="258.40" y2="30.00" stroke="#555" stroke-width="0.8" />
<text x="255.80" y="32.00" font-size="5.8" text-anchor="end" fill="#000" textLength="8.4" lengthAdjust="spacingAndGlyphs" stroke="#111" stroke-width="0.18">11.5</text>
<line x1="256.60" y1="74.20" x2="258.40" y2="74.20" stroke="#555" stroke-width="0.8" />
<text x="255.80" y="76.20" font-size="5.8" text-anchor="end" fill="#000" textLength="8.4" lengthAdjust="spacingAndGlyphs" stroke="#111" stroke-width="0.18">11.0</text>
<line x1="256.60" y1="116.40" x2="258.40" y2="116.40" stroke="#555" stroke-width="0.8" />
<text x="255.80" y="118.40" font-size="5.8" text-anchor="end" fill="#000" textLength="8.4" lengthAdjust="spacingAndGlyphs" stroke="#111" stroke-width="0.18">10.5</text>
<line x1="280.70" y1="78.40" x2="280.70" y2="91.20" stroke="#777" stroke-width="0.6" stroke-dasharray="1,0.8"/>
<line x1="280.70" y1="113.40" x2="280.70" y2="125.00" stroke="#777" stroke-width="0.6" stroke-dasharray="1,0.8"/>
<line x1="273.50" y1="78.40" x2="287.90" y2="78.40" stroke="#333" stroke-width="0.9" />
<line x1="273.50" y1="125.00" x2="287.90" y2="125.00" stroke="#333" stroke-width="0.9" />
<rect x="265.30" y="91.20" width="30.80" height="22.20" fill="none" stroke="#555" stroke-width="0.8" />
<line x1="265.30" y1="98.20" x2="296.10" y2="98.20" stroke="#333" stroke-width="1.3" />
<circle cx="280.70" cy="55.00" r="1.05" fill="none" stroke="#444" stroke-width="0.7"/>
<circle cx="280.70" cy="78.40" r="1.05" fill="none" stroke="#444" stroke-width="0.7"/>
<circle cx="280.70" cy="85.00" r="1.05" fill="none" stroke="#444" stroke-width="0.7"/>
<circle cx="280.70" cy="96.00" r="1.05" fill="none" stroke="#444" stroke-width="0.7"/>
<circle cx="280.70" cy="97.50" r="1.05" fill="none" stroke="#444" stroke-width="0.7"/>
<circle cx="280.70" cy="99.00" r="1.05" fill="none" stroke="#444" stroke-width="0.7"/>
<circle cx="280.70" cy="107.00" r="1.05" fill="none" stroke="#444" stroke-width="0.7"/>
<circle cx="280.70" cy="111.00" r="1.05" fill="none" stroke="#444" stroke-width="0.7"/>
<circle cx="280.70" cy="117.00" r="1.05" fill="none" stroke="#444" stroke-width="0.7"/>
<circle cx="280.70" cy="125.00" r="1.05" fill="none" stroke="#444" stroke-width="0.7"/>
<line x1="280.70" y1="129.20" x2="280.70" y2="131.40" stroke="#555" stroke-width="0.8" />
<text x="280.70" y="140.80" font-size="9.2" text-anchor="middle" fill="#000" textLength="23" lengthAdjust="spacingAndGlyphs" >Normal</text>
<line x1="319.00" y1="25.40" x2="319.00" y2="37.40" stroke="#e07070" stroke-width="0.6" stroke-dasharray="1,0.8"/>
<line x1="319.00" y1="70.00" x2="319.00" y2="99.00" stroke="#e07070" stroke-width="0.6" stroke-dasharray="1,0.8"/>
<line x1="311.80" y1="25.40" x2="326.20" y2="25.40" stroke="#333" stroke-width="0.9" />
<line x1="311.80" y1="99.00" x2="326.20" y2="99.00" stroke="#aaa" stroke-width="0.9" />
<rect x="303.60" y="37.40" width="30.80" height="32.60" fill="none" stroke="#555" stroke-width="0.8" />
<line x1="319.00" y1="37.40" x2="319.00" y2="70.00" stroke="#e07070" stroke-width="0.6" stroke-dasharray="1,0.8"/>
<line x1="303.60" y1="54.20" x2="334.40" y2="54.20" stroke="#333" stroke-width="1.3" />
<circle cx="319.00" cy="25.50" r="1.05" fill="none" stroke="#d22" stroke-width="0.7"/>
<circle cx="319.00" cy="31.00" r="1.05" fill="none" stroke="#d22" stroke-width="0.7"/>
<circle cx="319.00" cy="35.00" r="1.05" fill="none" stroke="#d22" stroke-width="0.7"/>
<circle cx="319.00" cy="37.50" r="1.05" fill="none" stroke="#d22" stroke-width="0.7"/>
<circle cx="319.00" cy="40.00" r="1.05" fill="none" stroke="#d22" stroke-width="0.7"/>
<circle cx="319.00" cy="44.00" r="1.05" fill="none" stroke="#d22" stroke-width="0.7"/>
<circle cx="319.00" cy="47.00" r="1.05" fill="none" stroke="#d22" stroke-width="0.7"/>
<circle cx="319.00" cy="50.00" r="1.05" fill="none" stroke="#d22" stroke-width="0.7"/>
<circle cx="319.00" cy="53.00" r="1.05" fill="none" stroke="#d22" stroke-width="0.7"/>
<circle cx="319.00" cy="57.00" r="1.05" fill="none" stroke="#d22" stroke-width="0.7"/>
<circle cx="319.00" cy="61.00" r="1.05" fill="none" stroke="#d22" stroke-width="0.7"/>
<circle cx="319.00" cy="66.00" r="1.05" fill="none" stroke="#d22" stroke-width="0.7"/>
<circle cx="319.00" cy="71.00" r="1.05" fill="none" stroke="#d22" stroke-width="0.7"/>
<circle cx="319.00" cy="79.00" r="1.05" fill="none" stroke="#d22" stroke-width="0.7"/>
<circle cx="319.00" cy="88.00" r="1.05" fill="none" stroke="#d22" stroke-width="0.7"/>
<circle cx="319.00" cy="98.00" r="1.05" fill="none" stroke="#d22" stroke-width="0.7"/>
<line x1="319.00" y1="129.20" x2="319.00" y2="131.40" stroke="#555" stroke-width="0.8" />
<text x="319.00" y="140.80" font-size="9.2" text-anchor="middle" fill="#000" textLength="10" lengthAdjust="spacingAndGlyphs" >UC</text>
<rect x="415.00" y="115.40" width="97.60" height="10.00" fill="#d6d6d6" stroke="#555" stroke-width="0.8" />
<rect x="512.60" y="115.40" width="59.20" height="10.00" fill="#fff" stroke="#555" stroke-width="0.8" />
<text x="463.80" y="123.30" font-size="7" text-anchor="middle" fill="#222" >DSS</text>
<text x="542.00" y="123.30" font-size="7.3" text-anchor="middle" fill="#222" >Water</text>
<line x1="415.00" y1="18.00" x2="415.00" y2="126.20" stroke="#000" stroke-width="1.3" />
<line x1="414.40" y1="125.40" x2="572.30" y2="125.40" stroke="#000" stroke-width="1.3" />
<line x1="411.00" y1="125.40" x2="415.00" y2="125.40" stroke="#000" stroke-width="1.2" />
<text x="410.30" y="128.80" font-size="9.6" text-anchor="end" fill="#000" >60</text>
<line x1="411.00" y1="104.00" x2="415.00" y2="104.00" stroke="#000" stroke-width="1.2" />
<text x="410.30" y="107.40" font-size="9.6" text-anchor="end" fill="#000" >70</text>
<line x1="411.00" y1="82.60" x2="415.00" y2="82.60" stroke="#000" stroke-width="1.2" />
<text x="410.30" y="86.00" font-size="9.6" text-anchor="end" fill="#000" >80</text>
<line x1="411.00" y1="61.20" x2="415.00" y2="61.20" stroke="#000" stroke-width="1.2" />
<text x="410.30" y="64.60" font-size="9.6" text-anchor="end" fill="#000" >90</text>
<line x1="411.00" y1="39.80" x2="415.00" y2="39.80" stroke="#000" stroke-width="1.2" />
<text x="410.30" y="43.20" font-size="9.6" text-anchor="end" fill="#000" >100</text>
<line x1="411.00" y1="18.40" x2="415.00" y2="18.40" stroke="#000" stroke-width="1.2" />
<text x="410.30" y="21.80" font-size="9.6" text-anchor="end" fill="#000" >110</text>
<line x1="415.00" y1="125.40" x2="415.00" y2="128.60" stroke="#000" stroke-width="1.2" />
<text x="415.00" y="139.00" font-size="9.6" text-anchor="middle" fill="#000" >0</text>
<line x1="434.60" y1="125.40" x2="434.60" y2="128.60" stroke="#000" stroke-width="1.2" />
<text x="434.60" y="139.00" font-size="9.6" text-anchor="middle" fill="#000" >1</text>
<line x1="454.20" y1="125.40" x2="454.20" y2="128.60" stroke="#000" stroke-width="1.2" />
<text x="454.20" y="139.00" font-size="9.6" text-anchor="middle" fill="#000" >2</text>
<line x1="473.80" y1="125.40" x2="473.80" y2="128.60" stroke="#000" stroke-width="1.2" />
<text x="473.80" y="139.00" font-size="9.6" text-anchor="middle" fill="#000" >3</text>
<line x1="493.40" y1="125.40" x2="493.40" y2="128.60" stroke="#000" stroke-width="1.2" />
<text x="493.40" y="139.00" font-size="9.6" text-anchor="middle" fill="#000" >4</text>
<line x1="513.00" y1="125.40" x2="513.00" y2="128.60" stroke="#000" stroke-width="1.2" />
<text x="513.00" y="139.00" font-size="9.6" text-anchor="middle" fill="#000" >5</text>
<line x1="532.60" y1="125.40" x2="532.60" y2="128.60" stroke="#000" stroke-width="1.2" />
<text x="532.60" y="139.00" font-size="9.6" text-anchor="middle" fill="#000" >6</text>
<line x1="552.20" y1="125.40" x2="552.20" y2="128.60" stroke="#000" stroke-width="1.2" />
<text x="552.20" y="139.00" font-size="9.6" text-anchor="middle" fill="#000" >7</text>
<line x1="571.80" y1="125.40" x2="571.80" y2="128.60" stroke="#000" stroke-width="1.2" />
<text x="571.80" y="139.00" font-size="9.6" text-anchor="middle" fill="#000" >8</text>
<text x="493.30" y="151.20" font-size="9.6" text-anchor="middle" fill="#000" >Days</text>
<text x="389.30" y="70.20" font-size="10" text-anchor="middle" fill="#000" transform="rotate(-90 389.30 70.20)" >Body weight (%)</text>
<polyline points="415.0,39.6 434.6,37.3 454.2,36.6 473.8,36.2 493.4,37 513.0,47.3 532.6,59 552.2,70 571.8,80.4" fill="none" stroke="#111" stroke-width="1.1"/>
<polyline points="415.0,39.6 434.6,40.6 454.2,41.4 473.8,41.6 493.4,40.6 513.0,53.4 532.6,79.4 552.2,96 571.8,107.6" fill="none" stroke="#111" stroke-width="1.1"/>
<line x1="434.60" y1="33.00" x2="434.60" y2="41.60" stroke="#000" stroke-width="1.1" />
<line x1="432.00" y1="33.00" x2="437.20" y2="33.00" stroke="#000" stroke-width="1.1" />
<line x1="432.00" y1="41.60" x2="437.20" y2="41.60" stroke="#000" stroke-width="1.1" />
<line x1="454.20" y1="33.00" x2="454.20" y2="40.20" stroke="#000" stroke-width="1.1" />
<line x1="451.60" y1="33.00" x2="456.80" y2="33.00" stroke="#000" stroke-width="1.1" />
<line x1="451.60" y1="40.20" x2="456.80" y2="40.20" stroke="#000" stroke-width="1.1" />
<line x1="473.80" y1="32.00" x2="473.80" y2="40.40" stroke="#000" stroke-width="1.1" />
<line x1="471.20" y1="32.00" x2="476.40" y2="32.00" stroke="#000" stroke-width="1.1" />
<line x1="471.20" y1="40.40" x2="476.40" y2="40.40" stroke="#000" stroke-width="1.1" />
<line x1="493.40" y1="33.00" x2="493.40" y2="41.00" stroke="#000" stroke-width="1.1" />
<line x1="490.80" y1="33.00" x2="496.00" y2="33.00" stroke="#000" stroke-width="1.1" />
<line x1="490.80" y1="41.00" x2="496.00" y2="41.00" stroke="#000" stroke-width="1.1" />
<line x1="513.00" y1="42.00" x2="513.00" y2="52.00" stroke="#000" stroke-width="1.1" />
<line x1="510.40" y1="42.00" x2="515.60" y2="42.00" stroke="#000" stroke-width="1.1" />
<line x1="510.40" y1="52.00" x2="515.60" y2="52.00" stroke="#000" stroke-width="1.1" />
<line x1="532.60" y1="53.40" x2="532.60" y2="65.00" stroke="#000" stroke-width="1.1" />
<line x1="530.00" y1="53.40" x2="535.20" y2="53.40" stroke="#000" stroke-width="1.1" />
<line x1="530.00" y1="65.00" x2="535.20" y2="65.00" stroke="#000" stroke-width="1.1" />
<line x1="552.20" y1="63.00" x2="552.20" y2="77.60" stroke="#000" stroke-width="1.1" />
<line x1="549.60" y1="63.00" x2="554.80" y2="63.00" stroke="#000" stroke-width="1.1" />
<line x1="549.60" y1="77.60" x2="554.80" y2="77.60" stroke="#000" stroke-width="1.1" />
<line x1="571.80" y1="71.60" x2="571.80" y2="89.40" stroke="#000" stroke-width="1.1" />
<line x1="569.20" y1="71.60" x2="574.40" y2="71.60" stroke="#000" stroke-width="1.1" />
<line x1="569.20" y1="89.40" x2="574.40" y2="89.40" stroke="#000" stroke-width="1.1" />
<line x1="552.20" y1="91.60" x2="552.20" y2="100.00" stroke="#000" stroke-width="1.1" />
<line x1="549.60" y1="91.60" x2="554.80" y2="91.60" stroke="#000" stroke-width="1.1" />
<line x1="549.60" y1="100.00" x2="554.80" y2="100.00" stroke="#000" stroke-width="1.1" />
<circle cx="415.00" cy="39.60" r="3.70" fill="#808080" stroke="#111" stroke-width="1.1"/>
<circle cx="434.60" cy="37.30" r="3.70" fill="#808080" stroke="#111" stroke-width="1.1"/>
<circle cx="454.20" cy="36.60" r="3.70" fill="#808080" stroke="#111" stroke-width="1.1"/>
<circle cx="473.80" cy="36.20" r="3.70" fill="#808080" stroke="#111" stroke-width="1.1"/>
<circle cx="493.40" cy="37.00" r="3.70" fill="#808080" stroke="#111" stroke-width="1.1"/>
<circle cx="513.00" cy="47.30" r="3.70" fill="#808080" stroke="#111" stroke-width="1.1"/>
<circle cx="532.60" cy="59.00" r="3.70" fill="#808080" stroke="#111" stroke-width="1.1"/>
<circle cx="552.20" cy="70.00" r="3.70" fill="#808080" stroke="#111" stroke-width="1.1"/>
<circle cx="571.80" cy="80.40" r="3.70" fill="#808080" stroke="#111" stroke-width="1.1"/>
<circle cx="415.00" cy="39.60" r="3.70" fill="#fff" stroke="#111" stroke-width="1.1"/>
<circle cx="434.60" cy="40.60" r="3.70" fill="#fff" stroke="#111" stroke-width="1.1"/>
<circle cx="454.20" cy="41.40" r="3.70" fill="#fff" stroke="#111" stroke-width="1.1"/>
<circle cx="473.80" cy="41.60" r="3.70" fill="#fff" stroke="#111" stroke-width="1.1"/>
<circle cx="493.40" cy="40.60" r="3.70" fill="#fff" stroke="#111" stroke-width="1.1"/>
<circle cx="513.00" cy="53.40" r="3.70" fill="#fff" stroke="#111" stroke-width="1.1"/>
<circle cx="532.60" cy="79.40" r="3.70" fill="#fff" stroke="#111" stroke-width="1.1"/>
<circle cx="552.20" cy="96.00" r="3.70" fill="#fff" stroke="#111" stroke-width="1.1"/>
<circle cx="571.80" cy="107.60" r="3.70" fill="#fff" stroke="#111" stroke-width="1.1"/>
<text x="532.60" y="52.00" font-size="8.5" text-anchor="middle" fill="#000" >**</text>
<text x="552.20" y="62.00" font-size="8.5" text-anchor="middle" fill="#000" >***</text>
<text x="571.80" y="71.00" font-size="8.5" text-anchor="middle" fill="#000" >***</text>
<line x1="424.50" y1="90.00" x2="434.50" y2="90.00" stroke="#000" stroke-width="1.1" />
<circle cx="429.60" cy="90.00" r="3.70" fill="#808080" stroke="#111" stroke-width="1.1"/>
<line x1="424.50" y1="102.60" x2="434.50" y2="102.60" stroke="#000" stroke-width="1.1" />
<circle cx="429.60" cy="102.60" r="3.70" fill="#fff" stroke="#111" stroke-width="1.1"/>
<text x="441.60" y="93.20" font-size="8.5" text-anchor="start" fill="#000" >WT DSS</text>
<text x="441.60" y="105.80" font-size="8.5" text-anchor="start" fill="#000" >ERdj5 KO DSS</text>
<line x1="37.60" y1="212.50" x2="37.60" y2="320.80" stroke="#000" stroke-width="1.2" />
<line x1="34.00" y1="320.20" x2="146.60" y2="320.20" stroke="#000" stroke-width="1.2" />
<line x1="34.00" y1="320.20" x2="37.60" y2="320.20" stroke="#000" stroke-width="1.2" />
<text x="32.80" y="323.80" font-size="10" text-anchor="end" fill="#000" >0</text>
<line x1="34.00" y1="293.40" x2="37.60" y2="293.40" stroke="#000" stroke-width="1.2" />
<text x="32.80" y="297.00" font-size="10" text-anchor="end" fill="#000" >2</text>
<line x1="34.00" y1="266.60" x2="37.60" y2="266.60" stroke="#000" stroke-width="1.2" />
<text x="32.80" y="270.20" font-size="10" text-anchor="end" fill="#000" >4</text>
<line x1="34.00" y1="239.80" x2="37.60" y2="239.80" stroke="#000" stroke-width="1.2" />
<text x="32.80" y="243.40" font-size="10" text-anchor="end" fill="#000" >6</text>
<line x1="34.00" y1="213.00" x2="37.60" y2="213.00" stroke="#000" stroke-width="1.2" />
<text x="32.80" y="216.60" font-size="10" text-anchor="end" fill="#000" >8</text>
<text x="22.00" y="265.50" font-size="10" text-anchor="middle" fill="#000" transform="rotate(-90 22.00 265.50)" >Colon length (cm)</text>
<rect x="42.60" y="223.72" width="17.40" height="96.48" fill="#efe8c8" stroke="#111" stroke-width="1.1" />
<line x1="51.30" y1="320.20" x2="51.30" y2="323.60" stroke="#000" stroke-width="1.2" />
<rect x="69.60" y="227.74" width="17.60" height="92.46" fill="#fde0e0" stroke="#111" stroke-width="1.1" />
<line x1="78.40" y1="320.20" x2="78.40" y2="323.60" stroke="#000" stroke-width="1.2" />
<rect x="96.20" y="249.18" width="17.80" height="71.02" fill="#808080" stroke="#111" stroke-width="1.1" />
<line x1="105.10" y1="320.20" x2="105.10" y2="323.60" stroke="#000" stroke-width="1.2" />
<rect x="123.40" y="263.92" width="17.80" height="56.28" fill="#ffffff" stroke="#111" stroke-width="1.1" />
<line x1="132.30" y1="320.20" x2="132.30" y2="323.60" stroke="#000" stroke-width="1.2" />
<circle cx="45.30" cy="219.50" r="3.2" fill="none" stroke="#111" stroke-width="0.95"/>
<circle cx="49.30" cy="219.50" r="3.2" fill="none" stroke="#111" stroke-width="0.95"/>
<circle cx="53.30" cy="219.00" r="3.2" fill="none" stroke="#111" stroke-width="0.95"/>
<circle cx="57.30" cy="219.50" r="3.2" fill="none" stroke="#111" stroke-width="0.95"/>
<circle cx="47.30" cy="222.50" r="3.2" fill="none" stroke="#111" stroke-width="0.95"/>
<circle cx="51.30" cy="222.00" r="3.2" fill="none" stroke="#111" stroke-width="0.95"/>
<circle cx="55.30" cy="222.50" r="3.2" fill="none" stroke="#111" stroke-width="0.95"/>
<circle cx="48.30" cy="226.00" r="3.2" fill="none" stroke="#111" stroke-width="0.95"/>
<circle cx="53.30" cy="226.50" r="3.2" fill="none" stroke="#111" stroke-width="0.95"/>
<circle cx="49.30" cy="230.00" r="3.2" fill="none" stroke="#111" stroke-width="0.95"/>
<circle cx="73.40" cy="219.50" r="3.2" fill="none" stroke="#111" stroke-width="0.95"/>
<circle cx="78.40" cy="219.50" r="3.2" fill="none" stroke="#111" stroke-width="0.95"/>
<circle cx="83.40" cy="219.50" r="3.2" fill="none" stroke="#111" stroke-width="0.95"/>
<circle cx="75.40" cy="224.50" r="3.2" fill="none" stroke="#111" stroke-width="0.95"/>
<circle cx="81.40" cy="224.50" r="3.2" fill="none" stroke="#111" stroke-width="0.95"/>
<circle cx="72.40" cy="229.00" r="3.2" fill="none" stroke="#111" stroke-width="0.95"/>
<circle cx="78.40" cy="229.00" r="3.2" fill="none" stroke="#111" stroke-width="0.95"/>
<circle cx="83.40" cy="229.00" r="3.2" fill="none" stroke="#111" stroke-width="0.95"/>
<circle cx="77.40" cy="234.00" r="3.2" fill="none" stroke="#111" stroke-width="0.95"/>
<circle cx="78.40" cy="240.00" r="3.2" fill="none" stroke="#111" stroke-width="0.95"/>
<circle cx="105.10" cy="228.50" r="3.2" fill="none" stroke="#111" stroke-width="0.95"/>
<circle cx="99.10" cy="247.00" r="3.2" fill="none" stroke="#111" stroke-width="0.95"/>
<circle cx="104.10" cy="245.00" r="3.2" fill="none" stroke="#111" stroke-width="0.95"/>
<circle cx="108.10" cy="246.00" r="3.2" fill="none" stroke="#111" stroke-width="0.95"/>
<circle cx="111.10" cy="247.00" r="3.2" fill="none" stroke="#111" stroke-width="0.95"/>
<circle cx="102.10" cy="251.00" r="3.2" fill="none" stroke="#111" stroke-width="0.95"/>
<circle cx="107.10" cy="251.00" r="3.2" fill="none" stroke="#111" stroke-width="0.95"/>
<circle cx="104.10" cy="256.00" r="3.2" fill="none" stroke="#111" stroke-width="0.95"/>
<circle cx="103.10" cy="259.00" r="3.2" fill="none" stroke="#111" stroke-width="0.95"/>
<circle cx="102.10" cy="263.00" r="3.2" fill="none" stroke="#111" stroke-width="0.95"/>
<circle cx="131.30" cy="255.00" r="3.2" fill="none" stroke="#111" stroke-width="0.95"/>
<circle cx="135.30" cy="255.00" r="3.2" fill="none" stroke="#111" stroke-width="0.95"/>
<circle cx="127.30" cy="258.00" r="3.2" fill="none" stroke="#111" stroke-width="0.95"/>
<circle cx="132.30" cy="259.00" r="3.2" fill="none" stroke="#111" stroke-width="0.95"/>
<circle cx="137.30" cy="259.00" r="3.2" fill="none" stroke="#111" stroke-width="0.95"/>
<circle cx="127.30" cy="262.00" r="3.2" fill="none" stroke="#111" stroke-width="0.95"/>
<circle cx="132.30" cy="262.00" r="3.2" fill="none" stroke="#111" stroke-width="0.95"/>
<circle cx="137.30" cy="262.00" r="3.2" fill="none" stroke="#111" stroke-width="0.95"/>
<circle cx="129.30" cy="265.00" r="3.2" fill="none" stroke="#111" stroke-width="0.95"/>
<circle cx="127.30" cy="269.00" r="3.2" fill="none" stroke="#111" stroke-width="0.95"/>
<text x="55.10" y="331.60" font-size="10.8" text-anchor="end" fill="#000" transform="rotate(-45 55.10 331.60)" >WT</text>
<text x="82.20" y="331.60" font-size="10.8" text-anchor="end" fill="#000" transform="rotate(-45 82.20 331.60)" >KO</text>
<text x="108.90" y="331.60" font-size="10.8" text-anchor="end" fill="#000" transform="rotate(-45 108.90 331.60)" >WT</text>
<text x="136.10" y="331.60" font-size="10.8" text-anchor="end" fill="#000" transform="rotate(-45 136.10 331.60)" >KO</text>
<line x1="95.00" y1="346.50" x2="142.40" y2="346.50" stroke="#000" stroke-width="1.1" />
<text x="119.70" y="358.40" font-size="10" text-anchor="middle" fill="#000" >DSS</text>
<line x1="46.60" y1="200.50" x2="105.60" y2="200.50" stroke="#000" stroke-width="1.1" />
<text x="76.80" y="199.60" font-size="9" text-anchor="middle" fill="#000" >***</text>
<line x1="46.60" y1="212.50" x2="77.40" y2="212.50" stroke="#000" stroke-width="1.1" />
<text x="62.20" y="209.60" font-size="8.6" text-anchor="middle" fill="#000" >ns</text>
<line x1="106.00" y1="220.50" x2="137.00" y2="220.50" stroke="#000" stroke-width="1.1" />
<text x="120.50" y="219.50" font-size="9" text-anchor="middle" fill="#000" >**</text>
<text x="238.30" y="197.70" font-size="10.8" text-anchor="middle" fill="#000" >Control</text>
<text x="339.30" y="197.70" font-size="10.8" text-anchor="middle" fill="#000" >DSS</text>
<text x="184.20" y="248.20" font-size="10" text-anchor="middle" fill="#000" transform="rotate(-90 184.20 248.20)" >WT</text>
<text x="184.20" y="345.60" font-size="10" text-anchor="middle" fill="#000" transform="rotate(-90 184.20 345.60)" >ERdj5 KO</text>
<line x1="451.50" y1="220.60" x2="451.50" y2="334.00" stroke="#000" stroke-width="1.2" />
<line x1="447.50" y1="333.40" x2="620.60" y2="333.40" stroke="#000" stroke-width="1.2" />
<line x1="447.50" y1="333.40" x2="451.50" y2="333.40" stroke="#000" stroke-width="1.2" />
<text x="445.50" y="337.00" font-size="10" text-anchor="end" fill="#000" >0</text>
<line x1="447.50" y1="310.96" x2="451.50" y2="310.96" stroke="#000" stroke-width="1.2" />
<text x="445.50" y="314.56" font-size="10" text-anchor="end" fill="#000" >20</text>
<line x1="447.50" y1="288.52" x2="451.50" y2="288.52" stroke="#000" stroke-width="1.2" />
<text x="445.50" y="292.12" font-size="10" text-anchor="end" fill="#000" >40</text>
<line x1="447.50" y1="266.08" x2="451.50" y2="266.08" stroke="#000" stroke-width="1.2" />
<text x="445.50" y="269.68" font-size="10" text-anchor="end" fill="#000" >60</text>
<line x1="447.50" y1="243.64" x2="451.50" y2="243.64" stroke="#000" stroke-width="1.2" />
<text x="445.50" y="247.24" font-size="10" text-anchor="end" fill="#000" >80</text>
<line x1="447.50" y1="221.20" x2="451.50" y2="221.20" stroke="#000" stroke-width="1.2" />
<text x="445.50" y="224.80" font-size="10" text-anchor="end" fill="#000" >100</text>
<text x="422.40" y="275.60" font-size="10.6" text-anchor="middle" fill="#000" transform="rotate(-90 422.40 275.60)" >Histological grade (%)</text>
<rect x="456.20" y="221.20" width="8.40" height="112.20" fill="#efe8c8" stroke="#111" stroke-width="1.1" />
<rect x="464.60" y="221.20" width="8.40" height="112.20" fill="#fde0e0" stroke="#111" stroke-width="1.1" />
<rect x="473.00" y="296.37" width="8.40" height="37.03" fill="#808080" stroke="#111" stroke-width="1.1" />
<rect x="481.40" y="279.54" width="8.40" height="53.86" fill="#ffffff" stroke="#111" stroke-width="1.1" />
<line x1="473.00" y1="333.40" x2="473.00" y2="337.00" stroke="#000" stroke-width="1.2" />
<text x="476.00" y="347.20" font-size="10.8" text-anchor="end" fill="#000" transform="rotate(-45 476.00 347.20)" >Grade 0</text>
<rect x="515.00" y="295.25" width="8.40" height="38.15" fill="#808080" stroke="#111" stroke-width="1.1" />
<rect x="523.40" y="331.16" width="8.40" height="2.24" fill="#ffffff" stroke="#111" stroke-width="1.1" />
<line x1="515.00" y1="333.40" x2="515.00" y2="337.00" stroke="#000" stroke-width="1.2" />
<text x="518.00" y="347.20" font-size="10.8" text-anchor="end" fill="#000" transform="rotate(-45 518.00 347.20)" >Grade 1</text>
<rect x="557.00" y="317.69" width="8.40" height="15.71" fill="#808080" stroke="#111" stroke-width="1.1" />
<rect x="565.40" y="327.79" width="8.40" height="5.61" fill="#ffffff" stroke="#111" stroke-width="1.1" />
<line x1="557.00" y1="333.40" x2="557.00" y2="337.00" stroke="#000" stroke-width="1.2" />
<text x="560.00" y="347.20" font-size="10.8" text-anchor="end" fill="#000" transform="rotate(-45 560.00 347.20)" >Grade 2</text>
<rect x="599.00" y="313.20" width="8.40" height="20.20" fill="#808080" stroke="#111" stroke-width="1.1" />
<rect x="607.40" y="285.15" width="8.40" height="48.25" fill="#ffffff" stroke="#111" stroke-width="1.1" />
<line x1="599.00" y1="333.40" x2="599.00" y2="337.00" stroke="#000" stroke-width="1.2" />
<text x="602.00" y="347.20" font-size="10.8" text-anchor="end" fill="#000" transform="rotate(-45 602.00 347.20)" >Grade 3</text>
<line x1="477.20" y1="291.89" x2="477.20" y2="300.86" stroke="#000" stroke-width="1.1" />
<line x1="475.30" y1="291.89" x2="479.10" y2="291.89" stroke="#000" stroke-width="1.1" />
<line x1="475.30" y1="300.86" x2="479.10" y2="300.86" stroke="#000" stroke-width="1.1" />
<line x1="485.60" y1="271.69" x2="485.60" y2="288.97" stroke="#000" stroke-width="1.1" />
<line x1="483.70" y1="271.69" x2="487.50" y2="271.69" stroke="#000" stroke-width="1.1" />
<line x1="483.70" y1="288.97" x2="487.50" y2="288.97" stroke="#000" stroke-width="1.1" />
<line x1="519.20" y1="291.89" x2="519.20" y2="298.62" stroke="#000" stroke-width="1.1" />
<line x1="517.30" y1="291.89" x2="521.10" y2="291.89" stroke="#000" stroke-width="1.1" />
<line x1="517.30" y1="298.62" x2="521.10" y2="298.62" stroke="#000" stroke-width="1.1" />
<line x1="561.20" y1="314.89" x2="561.20" y2="321.06" stroke="#000" stroke-width="1.1" />
<line x1="559.30" y1="314.89" x2="563.10" y2="314.89" stroke="#000" stroke-width="1.1" />
<line x1="559.30" y1="321.06" x2="563.10" y2="321.06" stroke="#000" stroke-width="1.1" />
<line x1="569.60" y1="325.55" x2="569.60" y2="330.03" stroke="#000" stroke-width="1.1" />
<line x1="567.70" y1="325.55" x2="571.50" y2="325.55" stroke="#000" stroke-width="1.1" />
<line x1="567.70" y1="330.03" x2="571.50" y2="330.03" stroke="#000" stroke-width="1.1" />
<line x1="603.20" y1="305.01" x2="603.20" y2="318.03" stroke="#000" stroke-width="1.1" />
<line x1="601.30" y1="305.01" x2="605.10" y2="305.01" stroke="#000" stroke-width="1.1" />
<line x1="601.30" y1="318.03" x2="605.10" y2="318.03" stroke="#000" stroke-width="1.1" />
<line x1="611.60" y1="275.39" x2="611.60" y2="295.25" stroke="#000" stroke-width="1.1" />
<line x1="609.70" y1="275.39" x2="613.50" y2="275.39" stroke="#000" stroke-width="1.1" />
<line x1="609.70" y1="295.25" x2="613.50" y2="295.25" stroke="#000" stroke-width="1.1" />
<circle cx="457.80" cy="221.20" r="2.2" fill="none" stroke="#111" stroke-width="0.9"/>
<circle cx="460.40" cy="221.20" r="2.2" fill="none" stroke="#111" stroke-width="0.9"/>
<circle cx="463.00" cy="221.20" r="2.2" fill="none" stroke="#111" stroke-width="0.9"/>
<circle cx="466.20" cy="221.20" r="2.2" fill="none" stroke="#111" stroke-width="0.9"/>
<circle cx="468.80" cy="221.20" r="2.2" fill="none" stroke="#111" stroke-width="0.9"/>
<circle cx="471.40" cy="221.20" r="2.2" fill="none" stroke="#111" stroke-width="0.9"/>
<circle cx="475.70" cy="299.74" r="2.2" fill="none" stroke="#111" stroke-width="0.9"/>
<circle cx="478.70" cy="297.50" r="2.2" fill="none" stroke="#111" stroke-width="0.9"/>
<circle cx="477.70" cy="290.09" r="2.2" fill="none" stroke="#111" stroke-width="0.9"/>
<circle cx="485.30" cy="269.00" r="2.2" fill="none" stroke="#111" stroke-width="0.9"/>
<circle cx="489.30" cy="271.02" r="2.2" fill="none" stroke="#111" stroke-width="0.9"/>
<circle cx="486.60" cy="298.06" r="2.2" fill="none" stroke="#111" stroke-width="0.9"/>
<circle cx="499.80" cy="333.40" r="2.2" fill="none" stroke="#111" stroke-width="0.9"/>
<circle cx="502.40" cy="333.40" r="2.2" fill="none" stroke="#111" stroke-width="0.9"/>
<circle cx="505.00" cy="333.40" r="2.2" fill="none" stroke="#111" stroke-width="0.9"/>
<circle cx="508.20" cy="333.40" r="2.2" fill="none" stroke="#111" stroke-width="0.9"/>
<circle cx="510.80" cy="333.40" r="2.2" fill="none" stroke="#111" stroke-width="0.9"/>
<circle cx="513.40" cy="333.40" r="2.2" fill="none" stroke="#111" stroke-width="0.9"/>
<circle cx="518.20" cy="290.99" r="2.2" fill="none" stroke="#111" stroke-width="0.9"/>
<circle cx="522.20" cy="293.01" r="2.2" fill="none" stroke="#111" stroke-width="0.9"/>
<circle cx="520.00" cy="299.96" r="2.2" fill="none" stroke="#111" stroke-width="0.9"/>
<circle cx="526.60" cy="332.39" r="2.2" fill="none" stroke="#111" stroke-width="0.9"/>
<circle cx="529.10" cy="329.02" r="2.2" fill="none" stroke="#111" stroke-width="0.9"/>
<circle cx="531.10" cy="329.02" r="2.2" fill="none" stroke="#111" stroke-width="0.9"/>
<circle cx="541.80" cy="333.40" r="2.2" fill="none" stroke="#111" stroke-width="0.9"/>
<circle cx="544.40" cy="333.40" r="2.2" fill="none" stroke="#111" stroke-width="0.9"/>
<circle cx="547.00" cy="333.40" r="2.2" fill="none" stroke="#111" stroke-width="0.9"/>
<circle cx="550.20" cy="333.40" r="2.2" fill="none" stroke="#111" stroke-width="0.9"/>
<circle cx="552.80" cy="333.40" r="2.2" fill="none" stroke="#111" stroke-width="0.9"/>
<circle cx="555.40" cy="333.40" r="2.2" fill="none" stroke="#111" stroke-width="0.9"/>
<circle cx="560.20" cy="313.99" r="2.2" fill="none" stroke="#111" stroke-width="0.9"/>
<circle cx="564.20" cy="316.01" r="2.2" fill="none" stroke="#111" stroke-width="0.9"/>
<circle cx="562.00" cy="322.40" r="2.2" fill="none" stroke="#111" stroke-width="0.9"/>
<circle cx="569.60" cy="322.97" r="2.2" fill="none" stroke="#111" stroke-width="0.9"/>
<circle cx="571.10" cy="328.01" r="2.2" fill="none" stroke="#111" stroke-width="0.9"/>
<circle cx="568.10" cy="330.03" r="2.2" fill="none" stroke="#111" stroke-width="0.9"/>
<circle cx="583.80" cy="333.40" r="2.2" fill="none" stroke="#111" stroke-width="0.9"/>
<circle cx="586.40" cy="333.40" r="2.2" fill="none" stroke="#111" stroke-width="0.9"/>
<circle cx="589.00" cy="333.40" r="2.2" fill="none" stroke="#111" stroke-width="0.9"/>
<circle cx="592.20" cy="333.40" r="2.2" fill="none" stroke="#111" stroke-width="0.9"/>
<circle cx="594.80" cy="333.40" r="2.2" fill="none" stroke="#111" stroke-width="0.9"/>
<circle cx="597.40" cy="333.40" r="2.2" fill="none" stroke="#111" stroke-width="0.9"/>
<circle cx="603.20" cy="299.96" r="2.2" fill="none" stroke="#111" stroke-width="0.9"/>
<circle cx="602.80" cy="312.08" r="2.2" fill="none" stroke="#111" stroke-width="0.9"/>
<circle cx="603.20" cy="324.98" r="2.2" fill="none" stroke="#111" stroke-width="0.9"/>
<circle cx="611.60" cy="266.08" r="2.2" fill="none" stroke="#111" stroke-width="0.9"/>
<circle cx="611.40" cy="290.99" r="2.2" fill="none" stroke="#111" stroke-width="0.9"/>
<circle cx="611.80" cy="297.05" r="2.2" fill="none" stroke="#111" stroke-width="0.9"/>
<line x1="475.60" y1="262.50" x2="489.20" y2="262.50" stroke="#000" stroke-width="1.2" />
<text x="482.30" y="259.80" font-size="9" text-anchor="middle" fill="#000" >ns</text>
<line x1="601.00" y1="259.60" x2="614.70" y2="259.60" stroke="#000" stroke-width="1.3" />
<text x="607.70" y="259.60" font-size="7.5" text-anchor="middle" fill="#000" >*</text>
<rect x="624.20" y="206.40" width="11.60" height="5.20" fill="#efe8c8" stroke="#222" stroke-width="1.0" />
<text x="642.40" y="211.90" font-size="9.6" text-anchor="start" fill="#000" >WT</text>
<rect x="624.20" y="221.60" width="11.60" height="5.20" fill="#fde0e0" stroke="#222" stroke-width="1.0" />
<text x="642.40" y="227.10" font-size="9.6" text-anchor="start" fill="#000" >KO</text>
<rect x="624.20" y="236.20" width="11.60" height="5.20" fill="#808080" stroke="#222" stroke-width="1.0" />
<text x="642.40" y="241.70" font-size="9.6" text-anchor="start" fill="#000" >WT</text>
<rect x="624.20" y="251.40" width="11.60" height="5.20" fill="#ffffff" stroke="#222" stroke-width="1.0" />
<text x="642.40" y="256.90" font-size="9.6" text-anchor="start" fill="#000" >KO</text>
<line x1="662.00" y1="234.00" x2="662.00" y2="259.60" stroke="#111" stroke-width="1.1" />
<text x="666.40" y="250.00" font-size="9.6" text-anchor="start" fill="#000" >DSS</text>
</svg>
</body></html>
